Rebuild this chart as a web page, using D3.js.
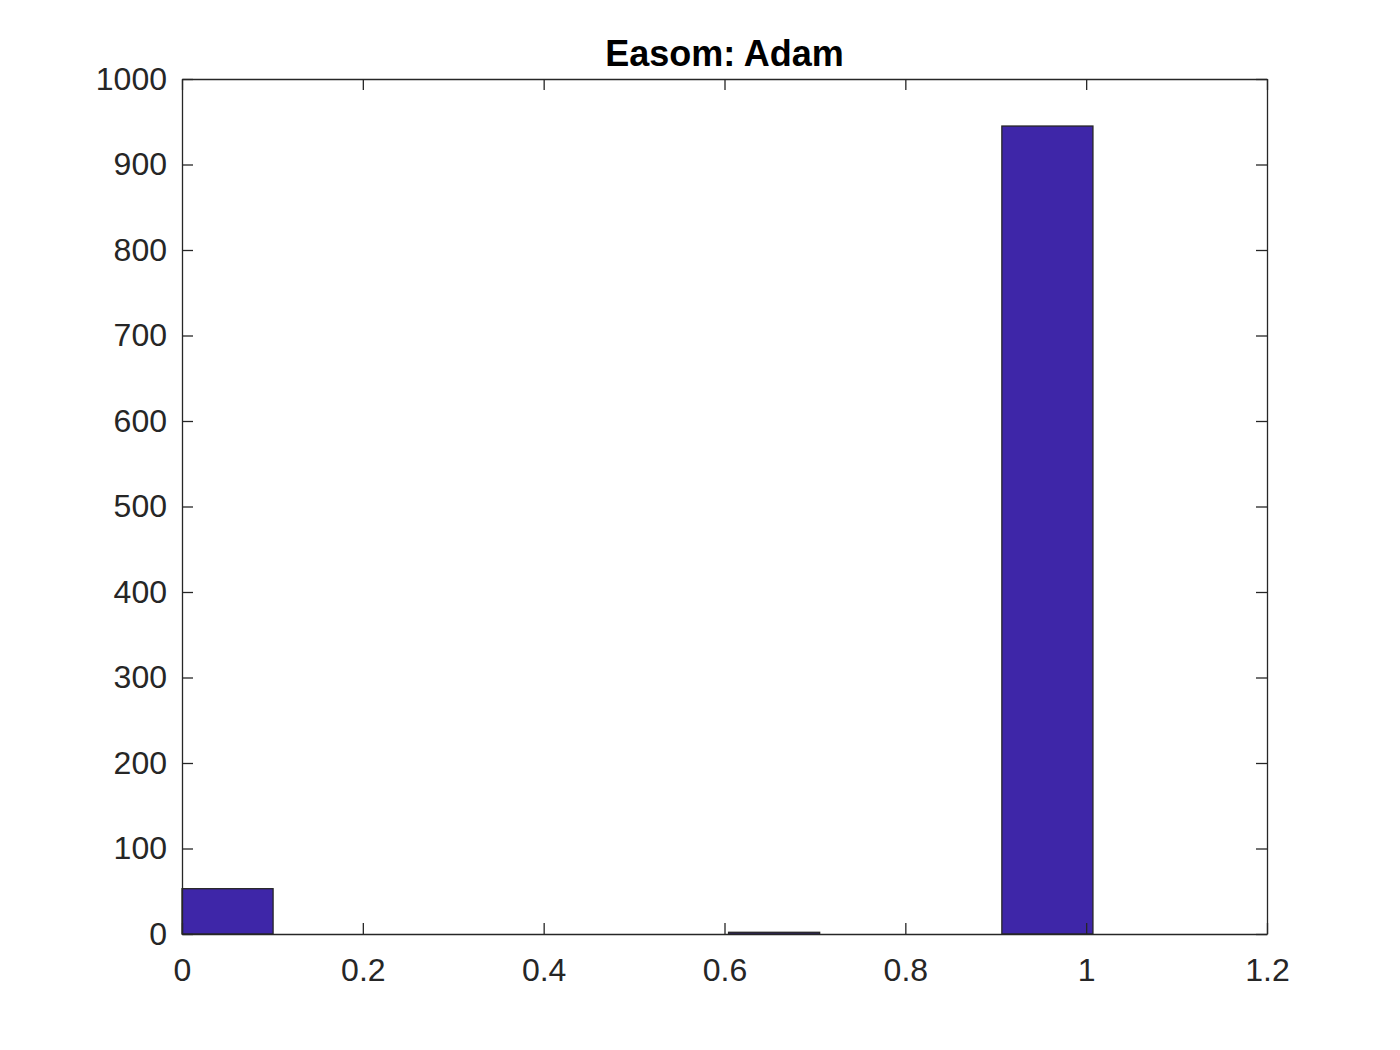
<!DOCTYPE html>
<html><head><meta charset="utf-8">
<script src="https://cdn.jsdelivr.net/npm/d3@7"></script>
<style>body{margin:0;background:#fff;} text{font-family:"Liberation Sans",Arial,sans-serif;}</style>
</head><body>
<svg id="c" width="1400" height="1050"></svg>
<script>
const binStarts = [0, 1, 2, 3, 4, 5, 6, 7, 8, 9];
const binWidth = 0.10075;
const counts = [53, 0, 0, 0, 0, 0, 2, 0, 0, 945];
const xTicks = [0, 0.2, 0.4, 0.6, 0.8, 1, 1.2];
const yTicks = [0, 100, 200, 300, 400, 500, 600, 700, 800, 900, 1000];
const title = "Easom: Adam";

const svg = d3.select("#c");
const L = 182, R = 1267, T = 79, B = 934;
const x = d3.scaleLinear().domain([0, 1.2]).range([L, R]);
const y = d3.scaleLinear().domain([0, 1000]).range([B, T]);
const ink = "#262626";

svg.append("rect").attr("x", L).attr("y", T).attr("width", R - L).attr("height", B - T).attr("fill", "#fff");

// bars (bin index * bin width gives the left edge)
svg.append("g").selectAll("rect").data(binStarts.map((s, i) => ({s: s * binWidth, c: counts[i]})))
  .join("rect")
  .attr("x", d => x(d.s)).attr("width", d => x(d.s + binWidth) - x(d.s))
  .attr("y", d => y(d.c)).attr("height", d => y(0) - y(d.c))
  .attr("fill", "#3E26A8").attr("stroke", ink).attr("stroke-width", 1.3);

const fmt = d => String(d);
const tl = 11;
const gx = svg.append("g").attr("transform", `translate(0,${B})`)
  .call(d3.axisBottom(x).tickValues(xTicks).tickFormat(fmt).tickSizeInner(-tl).tickSizeOuter(0).tickPadding(24));
const gxt = svg.append("g").attr("transform", `translate(0,${T})`)
  .call(d3.axisTop(x).tickValues(xTicks).tickFormat("").tickSizeInner(-tl).tickSizeOuter(0));
const gy = svg.append("g").attr("transform", `translate(${L},0)`)
  .call(d3.axisLeft(y).tickValues(yTicks).tickFormat(fmt).tickSizeInner(-tl).tickSizeOuter(0).tickPadding(15));
const gyr = svg.append("g").attr("transform", `translate(${R},0)`)
  .call(d3.axisRight(y).tickValues(yTicks).tickFormat("").tickSizeInner(-tl).tickSizeOuter(0));
[gx, gxt, gy, gyr].forEach(g => {
  g.selectAll("path.domain").attr("stroke", ink).attr("stroke-width", 1.3);
  g.selectAll(".tick line").attr("stroke", ink).attr("stroke-width", 1.3);
  g.selectAll(".tick text").attr("fill", ink).style("font-size", "32px").style("font-family", '"Liberation Sans",Arial,sans-serif');
});
gx.selectAll(".tick text").attr("dy", "0.71em");

svg.append("text").attr("x", (L + R) / 2).attr("y", 66).attr("text-anchor", "middle")
  .style("font-size", "36px").style("font-weight", "bold").attr("fill", "#000").text(title);
</script>
</body></html>
